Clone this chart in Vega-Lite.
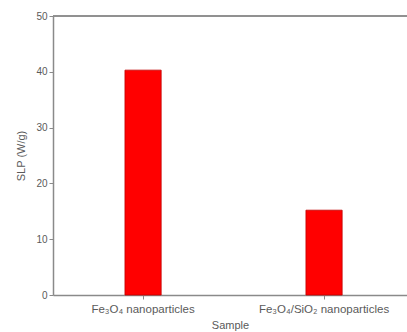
{
  "$schema": "https://vega.github.io/schema/vega-lite/v6.json",
  "width": 354,
  "height": 279,
  "autosize": {"type": "none"},
  "padding": {"left": 53, "top": 16, "right": 0, "bottom": 37},
  "background": "white",
  "config": {
    "view": {"stroke": null},
    "font": "Liberation Sans",
    "axis": {"domainColor": "#8a8a8a", "tickColor": "#8a8a8a", "labelColor": "#5a5a5a", "titleColor": "#5a5a5a", "labelFont": "Liberation Sans", "titleFont": "Liberation Sans", "titleFontWeight": "normal", "labelFontSize": 10, "titleFontSize": 11, "grid": false, "domainWidth": 1.5}
  },
  "data": {"values": [
    {"Sample": "Fe₃O₄ nanoparticles", "SLP": 40.3},
    {"Sample": "Fe₃O₄/SiO₂ nanoparticles", "SLP": 15.2}
  ]},
  "layer": [
    {
      "mark": {"type": "bar", "color": "#ff0000", "stroke": "#c00000", "strokeWidth": 0.8},
      "encoding": {
        "x": {"field": "Sample", "type": "nominal", "sort": null,
          "scale": {"paddingInner": 0.8, "paddingOuter": 0.378, "align": 0.526},
          "axis": {"title": "Sample", "labelAngle": 0, "tickSize": 4, "labelPadding": 4, "labelFontSize": 11.5, "titlePadding": 5}},
        "y": {"field": "SLP", "type": "quantitative",
          "scale": {"domain": [0, 50], "nice": false},
          "axis": {"title": "SLP (W/g)", "values": [0,5,10,15,20,25,30,35,40,45,50], "labelExpr": "datum.value % 10 === 0 ? datum.label : ''", "tickSize": 4, "labelPadding": 2, "titlePadding": 9}}
      }
    },
    {
      "mark": {"type": "rule", "color": "#8a8a8a", "strokeWidth": 1.5},
      "encoding": {"y": {"datum": 50}}
    }
  ]
}
